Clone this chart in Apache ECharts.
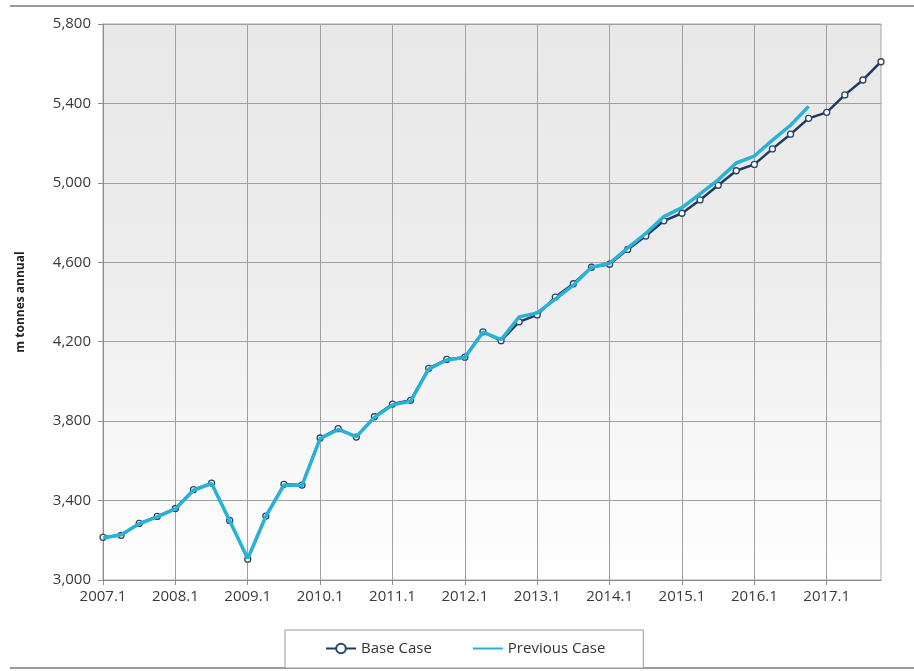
<!DOCTYPE html>
<html>
<head>
<meta charset="utf-8">
<script src="https://cdn.jsdelivr.net/npm/echarts@6/dist/echarts.min.js"></script>
<style>
  html, body { margin: 0; padding: 0; background: #ffffff; }
  #chart { width: 914px; height: 671px; }
</style>
</head>
<body>
<div id="chart"></div>
<script>
// Quarterly periods 2007.1 – 2017.4
const quarters = [];
for (let y = 2007; y <= 2017; y++) {
  for (let q = 1; q <= 4; q++) quarters.push(y + '.' + q);
}

// m tonnes annual, Base Case (2007.1 – 2017.4)
const baseCase = [
  3215, 3225, 3285, 3320, 3360, 3455, 3488, 3300,
  3105, 3322, 3482, 3478, 3715, 3762, 3720, 3822,
  3886, 3905, 4066, 4111, 4122, 4250, 4205, 4300,
  4335, 4425, 4492, 4575, 4590, 4665, 4732, 4809,
  4847, 4914, 4988, 5061, 5093, 5171, 5245, 5325,
  5355, 5443, 5518, 5610
];

// m tonnes annual, Previous Case (2007.1 – 2016.4)
const previousCase = [
  3212, 3228, 3283, 3318, 3358, 3452, 3486, 3298,
  3108, 3320, 3478, 3476, 3712, 3758, 3722, 3818,
  3882, 3900, 4062, 4108, 4120, 4248, 4210, 4325,
  4345, 4415, 4485, 4575, 4595, 4672, 4745, 4830,
  4875, 4945, 5015, 5100, 5135, 5215, 5290, 5385
];

const yTicks = { min: 3000, max: 5800, step: 400 };

const chart = echarts.init(document.getElementById('chart'), null, { renderer: 'canvas' });

const labelFont = "'Open Sans', 'Noto Sans', sans-serif";

chart.setOption({
  animation: false,
  backgroundColor: '#ffffff',
  grid: {
    left: 103, right: 33, top: 24, bottom: 91,
    show: true,
    borderColor: '#a6a6a6',
    borderWidth: 1,
    backgroundColor: {
      type: 'linear', x: 0, y: 0, x2: 0, y2: 1,
      colorStops: [
        { offset: 0, color: '#e8e8e8' },
        { offset: 0.45, color: '#ededed' },
        { offset: 1, color: '#ffffff' }
      ]
    }
  },
  xAxis: {
    type: 'category',
    data: quarters,
    boundaryGap: false,
    axisLine: { lineStyle: { color: '#8c8c8c', width: 1 } },
    axisTick: { show: true, interval: 3, length: 5, lineStyle: { color: '#8c8c8c' } },
    axisLabel: { interval: 3, color: '#3a3a3a', fontSize: 15, fontFamily: labelFont, margin: 9 },
    splitLine: { show: true, interval: 3, lineStyle: { color: '#a0a0a0', width: 1 } }
  },
  yAxis: {
    type: 'value',
    min: yTicks.min,
    max: yTicks.max,
    interval: yTicks.step,
    name: 'm tonnes annual',
    nameLocation: 'middle',
    nameGap: 76,
    nameRotate: 90,
    nameTextStyle: { color: '#222222', fontSize: 12, fontWeight: 'bold', fontFamily: labelFont },
    axisLine: { show: true, lineStyle: { color: '#8c8c8c', width: 1 } },
    axisTick: { show: true, length: 5, lineStyle: { color: '#8c8c8c' } },
    axisLabel: {
      color: '#3a3a3a', fontSize: 15, fontFamily: labelFont, margin: 12,
      formatter: v => v.toLocaleString('en-US')
    },
    splitLine: { show: true, lineStyle: { color: '#a0a0a0', width: 1 } }
  },
  legend: {
    left: 285,
    top: 630,
    width: 358,
    padding: [11, 38, 12, 40],
    itemGap: 40,
    itemWidth: 30,
    itemHeight: 12,
    borderColor: '#9a9a9a',
    borderWidth: 1,
    backgroundColor: '#ffffff',
    textStyle: { color: '#333333', fontSize: 15, fontFamily: labelFont },
    data: [
      { name: 'Base Case' },
      { name: 'Previous Case', itemStyle: { opacity: 0 } }
    ]
  },
  graphic: [
    { type: 'line', shape: { x1: 10, y1: 6, x2: 914, y2: 6 }, style: { stroke: '#9a9a9a', lineWidth: 2 }, silent: true },
    { type: 'line', shape: { x1: 10, y1: 668, x2: 914, y2: 668 }, style: { stroke: '#9a9a9a', lineWidth: 2 }, silent: true }
  ],
  series: [
    {
      name: 'Base Case',
      type: 'line',
      data: baseCase,
      z: 2,
      symbol: 'circle',
      symbolSize: 6,
      showAllSymbol: true,
      lineStyle: { color: '#1f3a60', width: 2.5 },
      itemStyle: { color: '#ffffff', borderColor: '#2a4468', borderWidth: 1.3 }
    },
    {
      name: 'Previous Case',
      type: 'line',
      data: previousCase,
      z: 10,
      symbol: 'none',
      lineStyle: { color: '#27b2d6', width: 3.5 },
      itemStyle: { color: '#27b2d6' }
    }
  ]
});
</script>
</body>
</html>
